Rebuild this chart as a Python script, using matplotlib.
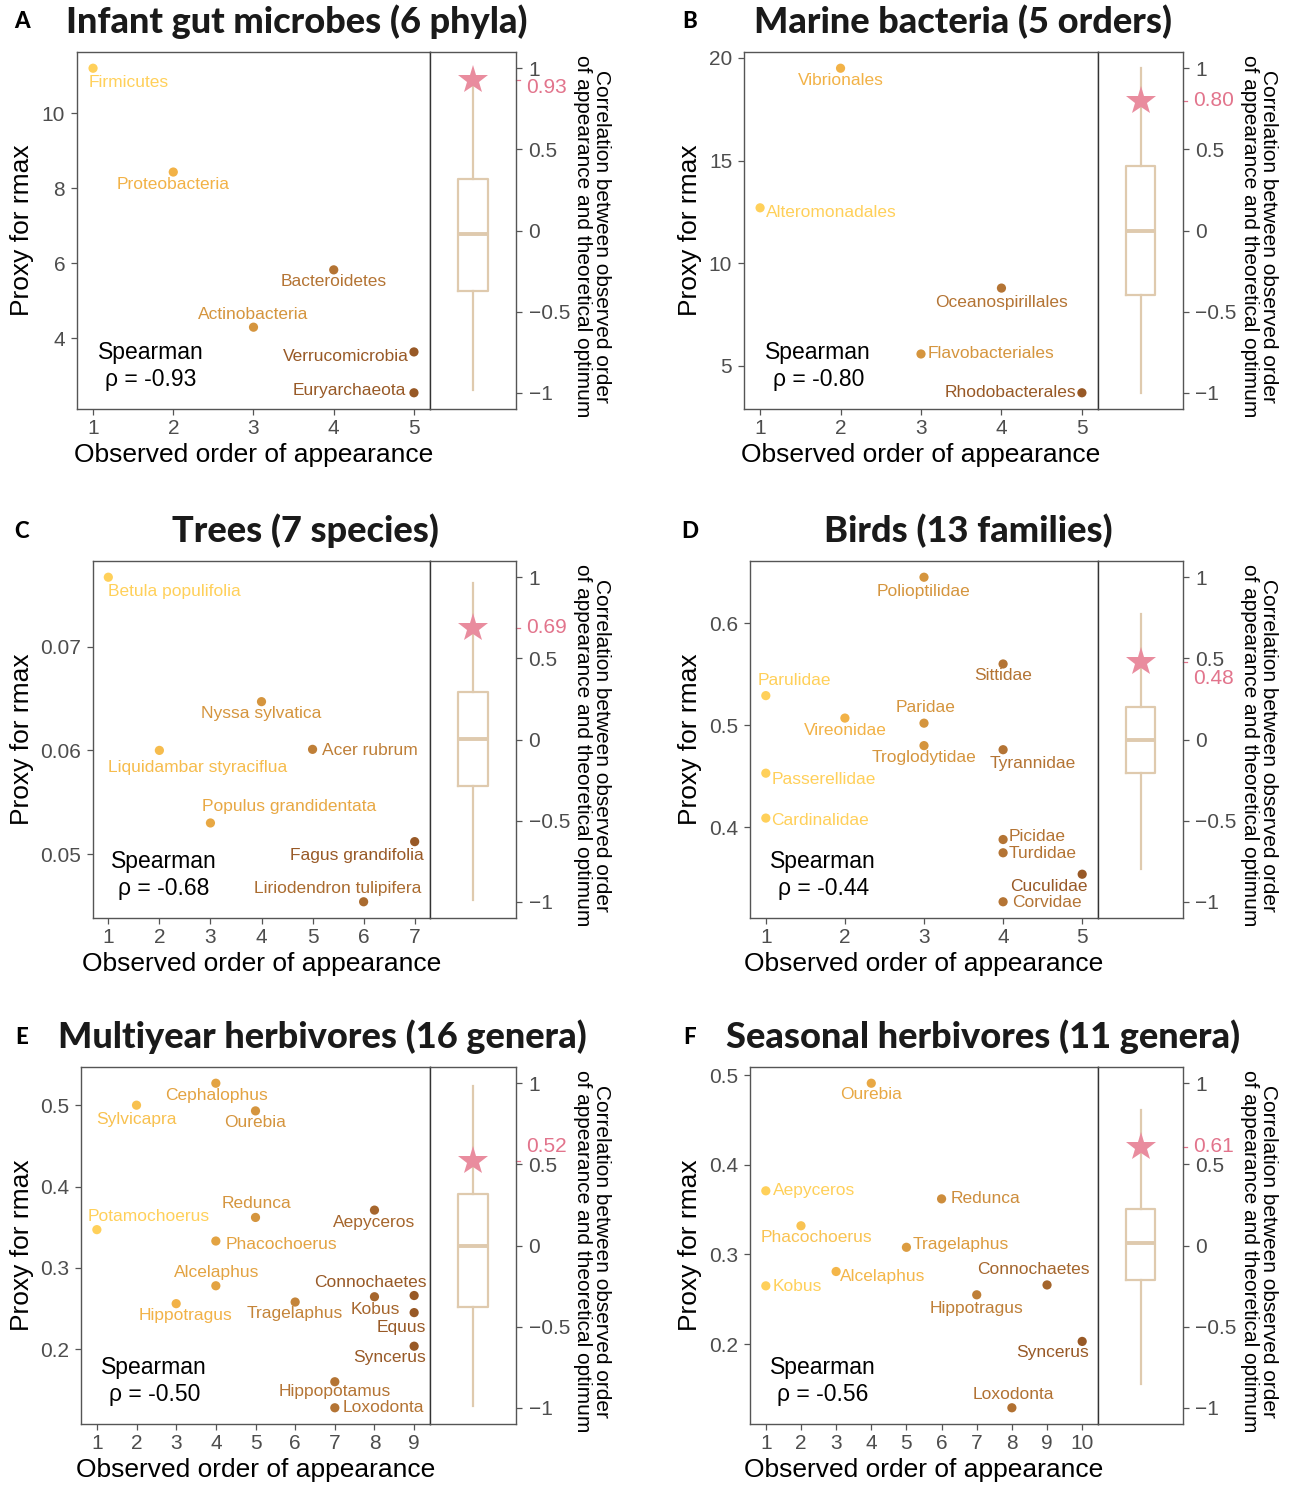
import numpy as np
import matplotlib
matplotlib.use('Agg')
import matplotlib.pyplot as plt
import matplotlib.transforms as mtransforms
from matplotlib.colors import LinearSegmentedColormap

plt.rcParams['font.family'] = ['Liberation Sans', 'DejaVu Sans']

# ---------------- DATA ----------------
# Panel A
a_names = ['Firmicutes', 'Proteobacteria', 'Actinobacteria', 'Bacteroidetes', 'Verrucomicrobia', 'Euryarchaeota']
a_order = [1, 2, 3, 4, 5, 5]
a_rmax = [11.2, 8.43, 4.29, 5.82, 3.63, 2.54]
a_yticks = [4, 6, 8, 10]
a_ytlabels = ['4', '6', '8', '10']
a_spearman = '-0.93'
a_corr = 0.93
a_box = [-0.98, -0.37, -0.02, 0.32, 0.95]  # whislo, q1, med, q3, whishi
a_title = 'Infant gut microbes (6 phyla)'

# Panel B
b_names = ['Alteromonadales', 'Vibrionales', 'Flavobacteriales', 'Oceanospirillales', 'Rhodobacterales']
b_order = [1, 2, 3, 4, 5]
b_rmax = [12.7, 19.5, 5.58, 8.79, 3.69]
b_yticks = [5, 10, 15, 20]
b_ytlabels = ['5', '10', '15', '20']
b_spearman = '-0.80'
b_corr = 0.80
b_box = [-1.0, -0.40, 0.0, 0.40, 1.0]
b_title = 'Marine bacteria (5 orders)'

# Panel C
c_names = ['Betula populifolia', 'Liquidambar styraciflua', 'Populus grandidentata', 'Nyssa sylvatica',
           'Acer rubrum', 'Liriodendron tulipifera', 'Fagus grandifolia']
c_order = [1, 2, 3, 4, 5, 6, 7]
c_rmax = [0.0767, 0.0600, 0.0530, 0.0647, 0.0601, 0.0454, 0.0512]
c_yticks = [0.05, 0.06, 0.07]
c_ytlabels = ['0.05', '0.06', '0.07']
c_spearman = '-0.68'
c_corr = 0.69
c_box = [-0.99, -0.285, 0.003, 0.295, 0.965]
c_title = 'Trees (7 species)'

# Panel D
d_names = ['Parulidae', 'Passerellidae', 'Cardinalidae', 'Vireonidae', 'Polioptilidae', 'Paridae',
           'Troglodytidae', 'Sittidae', 'Tyrannidae', 'Picidae', 'Turdidae', 'Corvidae', 'Cuculidae']
d_order = [1, 1, 1, 2, 3, 3, 3, 4, 4, 4, 4, 4, 5]
d_rmax = [0.529, 0.453, 0.409, 0.507, 0.645, 0.502, 0.480, 0.560, 0.476, 0.388, 0.375, 0.327, 0.354]
d_yticks = [0.4, 0.5, 0.6]
d_ytlabels = ['0.4', '0.5', '0.6']
d_spearman = '-0.44'
d_corr = 0.48
d_box = [-0.796, -0.207, 0.0, 0.20, 0.773]
d_title = 'Birds (13 families)'

# Panel E
e_names = ['Potamochoerus', 'Sylvicapra', 'Hippotragus', 'Cephalophus', 'Phacochoerus', 'Alcelaphus',
           'Ourebia', 'Redunca', 'Tragelaphus', 'Hippopotamus', 'Loxodonta', 'Aepyceros', 'Kobus',
           'Connochaetes', 'Equus', 'Syncerus']
e_order = [1, 2, 3, 4, 4, 4, 5, 5, 6, 7, 7, 8, 8, 9, 9, 9]
e_rmax = [0.347, 0.500, 0.256, 0.527, 0.333, 0.278, 0.493, 0.362, 0.258, 0.160, 0.128, 0.371,
          0.2645, 0.266, 0.245, 0.2037]
e_yticks = [0.2, 0.3, 0.4, 0.5]
e_ytlabels = ['0.2', '0.3', '0.4', '0.5']
e_spearman = '-0.50'
e_corr = 0.52
e_box = [-0.99, -0.378, -0.003, 0.317, 0.98]
e_title = 'Multiyear herbivores (16 genera)'

# Panel F
f_names = ['Aepyceros', 'Kobus', 'Phacochoerus', 'Alcelaphus', 'Ourebia', 'Tragelaphus', 'Redunca',
           'Hippotragus', 'Loxodonta', 'Connochaetes', 'Syncerus']
f_order = [1, 1, 2, 3, 4, 5, 6, 7, 8, 9, 10]
f_rmax = [0.371, 0.265, 0.332, 0.281, 0.491, 0.308, 0.362, 0.255, 0.129, 0.266, 0.203]
f_yticks = [0.2, 0.3, 0.4, 0.5]
f_ytlabels = ['0.2', '0.3', '0.4', '0.5']
f_spearman = '-0.56'
f_corr = 0.61
f_box = [-0.851, -0.212, 0.013, 0.222, 0.838]
f_title = 'Seasonal herbivores (11 genera)'

corr_ticks = [-1, -0.5, 0, 0.5, 1]
corr_ticklabels = ['\u22121', '\u22120.5', '0', '0.5', '1']

# ---------------- LABEL PLACEMENT (pixel offsets, dy up) ----------------
a_lab = [(-4, -14, 'left'), (0, -12, 'center'), (0, 13, 'center'), (0, -12, 'center'),
         (-5, -5, 'right'), (-8, 2, 'right')]
b_lab = [(6, -5, 'left'), (0, -12, 'center'), (7, 0, 'left'), (0, -14, 'center'), (-6, 0, 'right')]
c_lab = [(0, -14, 'left'), (-51, -17, 'left'), (-8, 16, 'left'), (0, -12, 'center'),
         (9, -1, 'left'), (58, 13, 'right'), (9, -14, 'right')]
d_lab = [(-8, 15, 'left'), (6, -6, 'left'), (5, -2, 'left'), (0, -12, 'center'), (0, -14, 'center'),
         (2, 16, 'center'), (0, -12, 'center'), (0, -12, 'center'), (30, -14, 'center'),
         (6, 3, 'left'), (6, -1, 'left'), (9, -1, 'left'), (5, -12, 'right')]
e_lab = [(-9, 13, 'left'), (0, -14, 'center'), (9, -12, 'center'), (1, -12, 'center'), (10, -3, 'left'),
         (1, 13, 'center'), (0, -12, 'center'), (1, 14, 'center'), (0, -11, 'center'), (0, -10, 'center'),
         (8, 0, 'left'), (0, -12, 'center'), (1, -13, 'center'), (12, 13, 'right'), (12, -15, 'right'),
         (12, -11, 'right')]
f_lab = [(7, 0, 'left'), (7, -1, 'left'), (15, -12, 'center'), (4, -5, 'left'), (0, -11, 'center'),
         (6, 3, 'left'), (9, 0, 'left'), (0, -14, 'center'), (1, 13, 'center'), (-14, 15, 'center'),
         (7, -11, 'right')]

# ---------------- STYLE ----------------
W, H = 1292, 1485
cmap = LinearSegmentedColormap.from_list('yb', ['#FFD05A', '#F2B247', '#D5953E', '#B47434', '#985926'])
frame_col = '#555555'
tick_lab_col = '#4D4D4D'
box_col = '#DFCAAE'
star_col = '#E98C9E'
pink_col = '#E2748C'
TITLE_FONT = ['Lato', 'Open Sans', 'DejaVu Sans']

fig = plt.figure(figsize=(W / 100, H / 100), dpi=100)


def rect(l, t, r, b):
    return [l / W, 1 - b / H, (r - l) / W, (b - t) / H]


def fx(x):
    return x / W


def fy(y):
    return 1 - y / H


panels = [
    dict(letter='A', names=a_names, x=a_order, y=a_rmax, yt=a_yticks, ytl=a_ytlabels, sp=a_spearman,
         corr=a_corr, box=a_box, title=a_title, lab=a_lab, px=(77, 52, 430, 516, 409), col=0, poff=-8,
         tx=297),
    dict(letter='B', names=b_names, x=b_order, y=b_rmax, yt=b_yticks, ytl=b_ytlabels, sp=b_spearman,
         corr=b_corr, box=b_box, title=b_title, lab=b_lab, px=(744, 52, 1098, 1183, 409), col=668, poff=0,
         tx=963),
    dict(letter='C', names=c_names, x=c_order, y=c_rmax, yt=c_yticks, ytl=c_ytlabels, sp=c_spearman,
         corr=c_corr, box=c_box, title=c_title, lab=c_lab, px=(93, 561, 430, 516, 918), col=0, poff=0,
         tx=305),
    dict(letter='D', names=d_names, x=d_order, y=d_rmax, yt=d_yticks, ytl=d_ytlabels, sp=d_spearman,
         corr=d_corr, box=d_box, title=d_title, lab=d_lab, px=(750, 561, 1098, 1183, 918), col=668, poff=-17,
         tx=968),
    dict(letter='E', names=e_names, x=e_order, y=e_rmax, yt=e_yticks, ytl=e_ytlabels, sp=e_spearman,
         corr=e_corr, box=e_box, title=e_title, lab=e_lab, px=(81, 1067, 430, 516, 1424), col=0, poff=15,
         tx=322),
    dict(letter='F', names=f_names, x=f_order, y=f_rmax, yt=f_yticks, ytl=f_ytlabels, sp=f_spearman,
         corr=f_corr, box=f_box, title=f_title, lab=f_lab, px=(750, 1067, 1098, 1183, 1424), col=668, poff=0,
         tx=983),
]

for p in panels:
    l, t, d, r, b = p['px']
    ax = fig.add_axes(rect(l, t, d, b))
    axs = fig.add_axes(rect(d, t, r, b))

    x = np.array(p['x'], dtype=float)
    y = np.array(p['y'], dtype=float)
    xmin, xmax = x.min(), x.max()
    ymin, ymax = y.min(), y.max()
    norm = (x - xmin) / (xmax - xmin)
    cols = cmap(norm)

    ax.scatter(x, y, s=44, c=cols, linewidths=0, zorder=3)
    for name, xi, yi, c, (dx, dy, ha) in zip(p['names'], x, y, cols, p['lab']):
        ax.annotate(name, (xi, yi), xytext=(dx, dy), textcoords='offset pixels', ha=ha, va='center',
                    fontsize=12.5, color=c, zorder=4)

    xr = xmax - xmin
    yr = ymax - ymin
    ax.set_xlim(xmin - 0.05 * xr, xmax + 0.05 * xr)
    ax.set_ylim(ymin - 0.05 * yr, ymax + 0.05 * yr)
    ax.set_xticks(np.arange(int(xmin), int(xmax) + 1))
    ax.set_yticks(p['yt'])
    ax.set_yticklabels(p['ytl'])
    ax.tick_params(direction='out', length=4, width=0.9, color=frame_col, labelsize=15,
                   labelcolor=tick_lab_col)
    ax.tick_params(axis='y', pad=4.5)
    ax.tick_params(axis='x', pad=3)
    for s in ax.spines.values():
        s.set_color(frame_col)
        s.set_linewidth(1.0)

    ax.text(0.21, 0.12, 'Spearman\n\u03c1 = ' + p['sp'], transform=ax.transAxes, ha='center', va='center',
            fontsize=16.5, color='black', linespacing=1.25)

    # strip with null distribution boxplot
    wl, q1, med, q3, wh = p['box']
    axs.bxp([dict(whislo=wl, q1=q1, med=med, q3=q3, whishi=wh, fliers=[])], positions=[0], widths=0.7,
            showfliers=False, showcaps=False, patch_artist=False,
            boxprops=dict(color=box_col, linewidth=1.6),
            whiskerprops=dict(color=box_col, linewidth=1.6),
            medianprops=dict(color=box_col, linewidth=2.8))
    axs.plot([0], [p['corr']], marker='*', markersize=22, color=star_col, markeredgewidth=0, zorder=5)
    axs.set_xlim(-1, 1)
    axs.set_ylim(-1.1, 1.1)
    axs.set_xticks([])
    axs.yaxis.tick_right()
    axs.set_yticks(corr_ticks)
    axs.set_yticklabels(corr_ticklabels)
    axs.tick_params(axis='y', direction='out', length=4, width=0.9, color=frame_col, labelsize=15,
                    labelcolor=tick_lab_col, pad=5)
    for k in ['left', 'top', 'bottom', 'right']:
        axs.spines[k].set_color(frame_col)
        axs.spines[k].set_linewidth(1.0)
    axs.spines['left'].set_color('#333333')

    trans = mtransforms.blended_transform_factory(axs.transAxes, axs.transData)
    tl = 4 / (r - d)
    axs.plot([1.0, 1.0 + tl], [p['corr'], p['corr']], transform=trans, clip_on=False, color=pink_col, lw=0.9)
    axs.annotate('%.2f' % p['corr'], xy=(1.0, p['corr']), xycoords=trans, xytext=(10, p['poff']),
                 textcoords='offset pixels', ha='left', va='center', color=pink_col, fontsize=15)

    # axis titles
    fig.text(fx(p['col'] + 22), fy((t + b) / 2), 'Proxy for rmax', rotation=90, ha='center', va='center',
             fontsize=19)
    fig.text(fx((l + d) / 2), fy(b + 46), 'Observed order of appearance', ha='center', va='center',
             fontsize=19)
    fig.text(fx(r + 76), fy((t + b) / 2 + 6),
             'Correlation between observed order\nof appearance and theoretical optimum',
             rotation=270, ha='center', va='center', fontsize=15, linespacing=1.05, multialignment='center')

    # title and panel letter
    fig.text(fx(p['tx']), fy(t - 30), p['title'], ha='center', va='center', fontsize=26,
             fontweight='black', family=TITLE_FONT, color='#1a1a1a')
    fig.text(fx(p['col'] + 22), fy(t - 30), p['letter'], ha='center', va='center', fontsize=16,
             fontweight='black', family=TITLE_FONT, color='black')

fig.savefig('out.png', dpi=100)
